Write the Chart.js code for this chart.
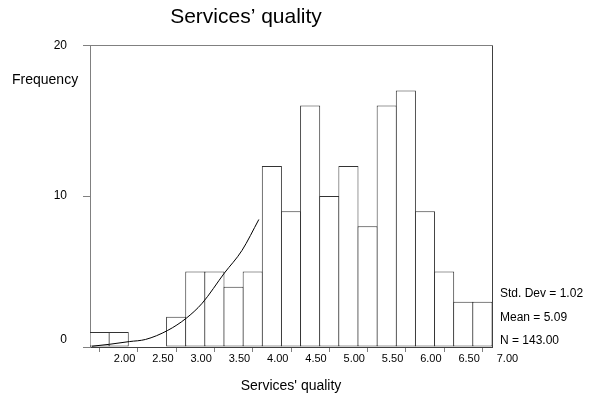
<!DOCTYPE html>
<html><head><meta charset="utf-8">
<script src="https://cdn.jsdelivr.net/npm/chart.js@4.4.1/dist/chart.umd.min.js"></script>
<style>html,body{margin:0;padding:0;background:#fff;} #wrap{width:590px;height:397px;position:relative;}</style>
</head><body><div id="wrap"><canvas id="c" width="590" height="397"></canvas></div>
<script>
// ---- data ----
const binMidpoints = [2.00, 2.25, 2.50, 2.75, 3.00, 3.25, 3.50, 3.75, 4.00, 4.25, 4.50, 4.75, 5.00, 5.25, 5.50, 5.75, 6.00, 6.25, 6.50, 6.75, 7.00];
const frequencies  = [1, 1, 0, 0, 2, 5, 5, 4, 5, 12, 9, 16, 10, 12, 8, 16, 17, 9, 5, 3, 3];
const curveX = [1.90, 2.13, 2.39, 2.60, 2.89, 3.13, 3.34, 3.63, 3.86, 4.08];
const curveY = [0.05, 0.18, 0.36, 0.50, 1.10, 1.90, 2.90, 4.90, 6.40, 8.45];
const xTickValues = [2.0, 2.5, 3.0, 3.5, 4.0, 4.5, 5.0, 5.5, 6.0, 6.5, 7.0];
const yTickValues = [0, 10, 20];
const chartTitle = 'Services\u2019 quality';
const xAxisTitle = "Services' quality";
const yAxisTitle = 'Frequency';
const statsLines = ['Std. Dev = 1.02', 'Mean = 5.09', 'N = 143.00'];

const FONT = '"Liberation Sans", Arial, sans-serif';

const extraText = {
  id: 'extraText',
  afterDraw(chart) {
    const ctx = chart.ctx;
    const a = chart.chartArea;
    ctx.save();
    // frame: top and right
    ctx.lineWidth = 1;
    ctx.strokeStyle = '#808080';
    ctx.beginPath();
    ctx.moveTo(a.left, Math.round(a.top) + 0.5);
    ctx.lineTo(Math.round(a.right) + 0.5, Math.round(a.top) + 0.5);
    ctx.stroke();
    ctx.strokeStyle = '#404040';
    ctx.beginPath();
    ctx.moveTo(Math.round(a.right) + 0.5, Math.round(a.top) + 0.5);
    ctx.lineTo(Math.round(a.right) + 0.5, a.bottom);
    ctx.stroke();
    // texts
    ctx.fillStyle = '#000';
    ctx.textBaseline = 'middle';
    ctx.textAlign = 'left';
    ctx.font = '14px ' + FONT;
    ctx.fillText(yAxisTitle, 12, 80);
    ctx.font = '12px ' + FONT;
    const ys = [294, 318, 341];
    statsLines.forEach((t, i) => ctx.fillText(t, 500, ys[i]));
    ctx.restore();
  }
};

new Chart(document.getElementById('c'), {
  data: {
    datasets: [
      {
        type: 'line',
        order: 0,
        data: curveX.map((x, i) => ({x: x, y: curveY[i]})),
        borderColor: '#000',
        borderWidth: 1,
        pointRadius: 0,
        cubicInterpolationMode: 'monotone',
        fill: false
      },
      {
        type: 'bar',
        order: 1,
        data: binMidpoints.map((x, i) => ({x: x, y: frequencies[i]})),
        backgroundColor: '#fff',
        borderColor: '#333',
        borderWidth: 1,
        borderSkipped: false,
        barPercentage: 1.05,
        categoryPercentage: 1
      }
    ]
  },
  options: {
    responsive: false,
    animation: false,
    devicePixelRatio: 1,
    layout: { padding: { left: 0, right: 98, top: 0, bottom: 0 } },
    plugins: {
      legend: { display: false },
      tooltip: { enabled: false },
      title: {
        display: true,
        text: chartTitle,
        color: '#000',
        font: { family: FONT, size: 21, weight: 'normal', lineHeight: 1.2 },
        padding: { top: 5, bottom: 15 }
      }
    },
    scales: {
      x: {
        type: 'linear',
        min: 1.875,
        max: 7.125,
        offset: false,
        afterBuildTicks: (s) => { s.ticks = xTickValues.map(v => ({value: v})); },
        afterFit: (s) => { s.height = 50; },
        grid: { display: true, drawOnChartArea: false, drawTicks: true, tickLength: 5, color: '#808080', offset: false },
        border: { display: true, color: '#404040', width: 1 },
        ticks: {
          autoSkip: false, maxRotation: 0, minRotation: 0,
          padding: 0, labelOffset: 25,
          color: '#000',
          font: { family: FONT, size: 11 },
          callback: (v) => Number(v).toFixed(2)
        },
        title: {
          display: true, text: xAxisTitle, color: '#000',
          font: { family: FONT, size: 14, lineHeight: 1.2 },
          padding: { top: 0, bottom: 2 }
        }
      },
      y: {
        min: 0,
        max: 20,
        afterBuildTicks: (s) => { s.ticks = yTickValues.map(v => ({value: v})); },
        afterFit: (s) => { s.width = 90; },
        grid: { display: true, drawOnChartArea: false, drawTicks: true, tickLength: 7, color: '#808080' },
        border: { display: true, color: '#808080', width: 1 },
        ticks: {
          padding: 16,
          color: '#000',
          font: { family: FONT, size: 12 },
          callback: (v) => (v === 0 ? ['0', ''] : String(v))
        }
      }
    }
  },
  plugins: [extraText]
});
</script>
</body></html>
